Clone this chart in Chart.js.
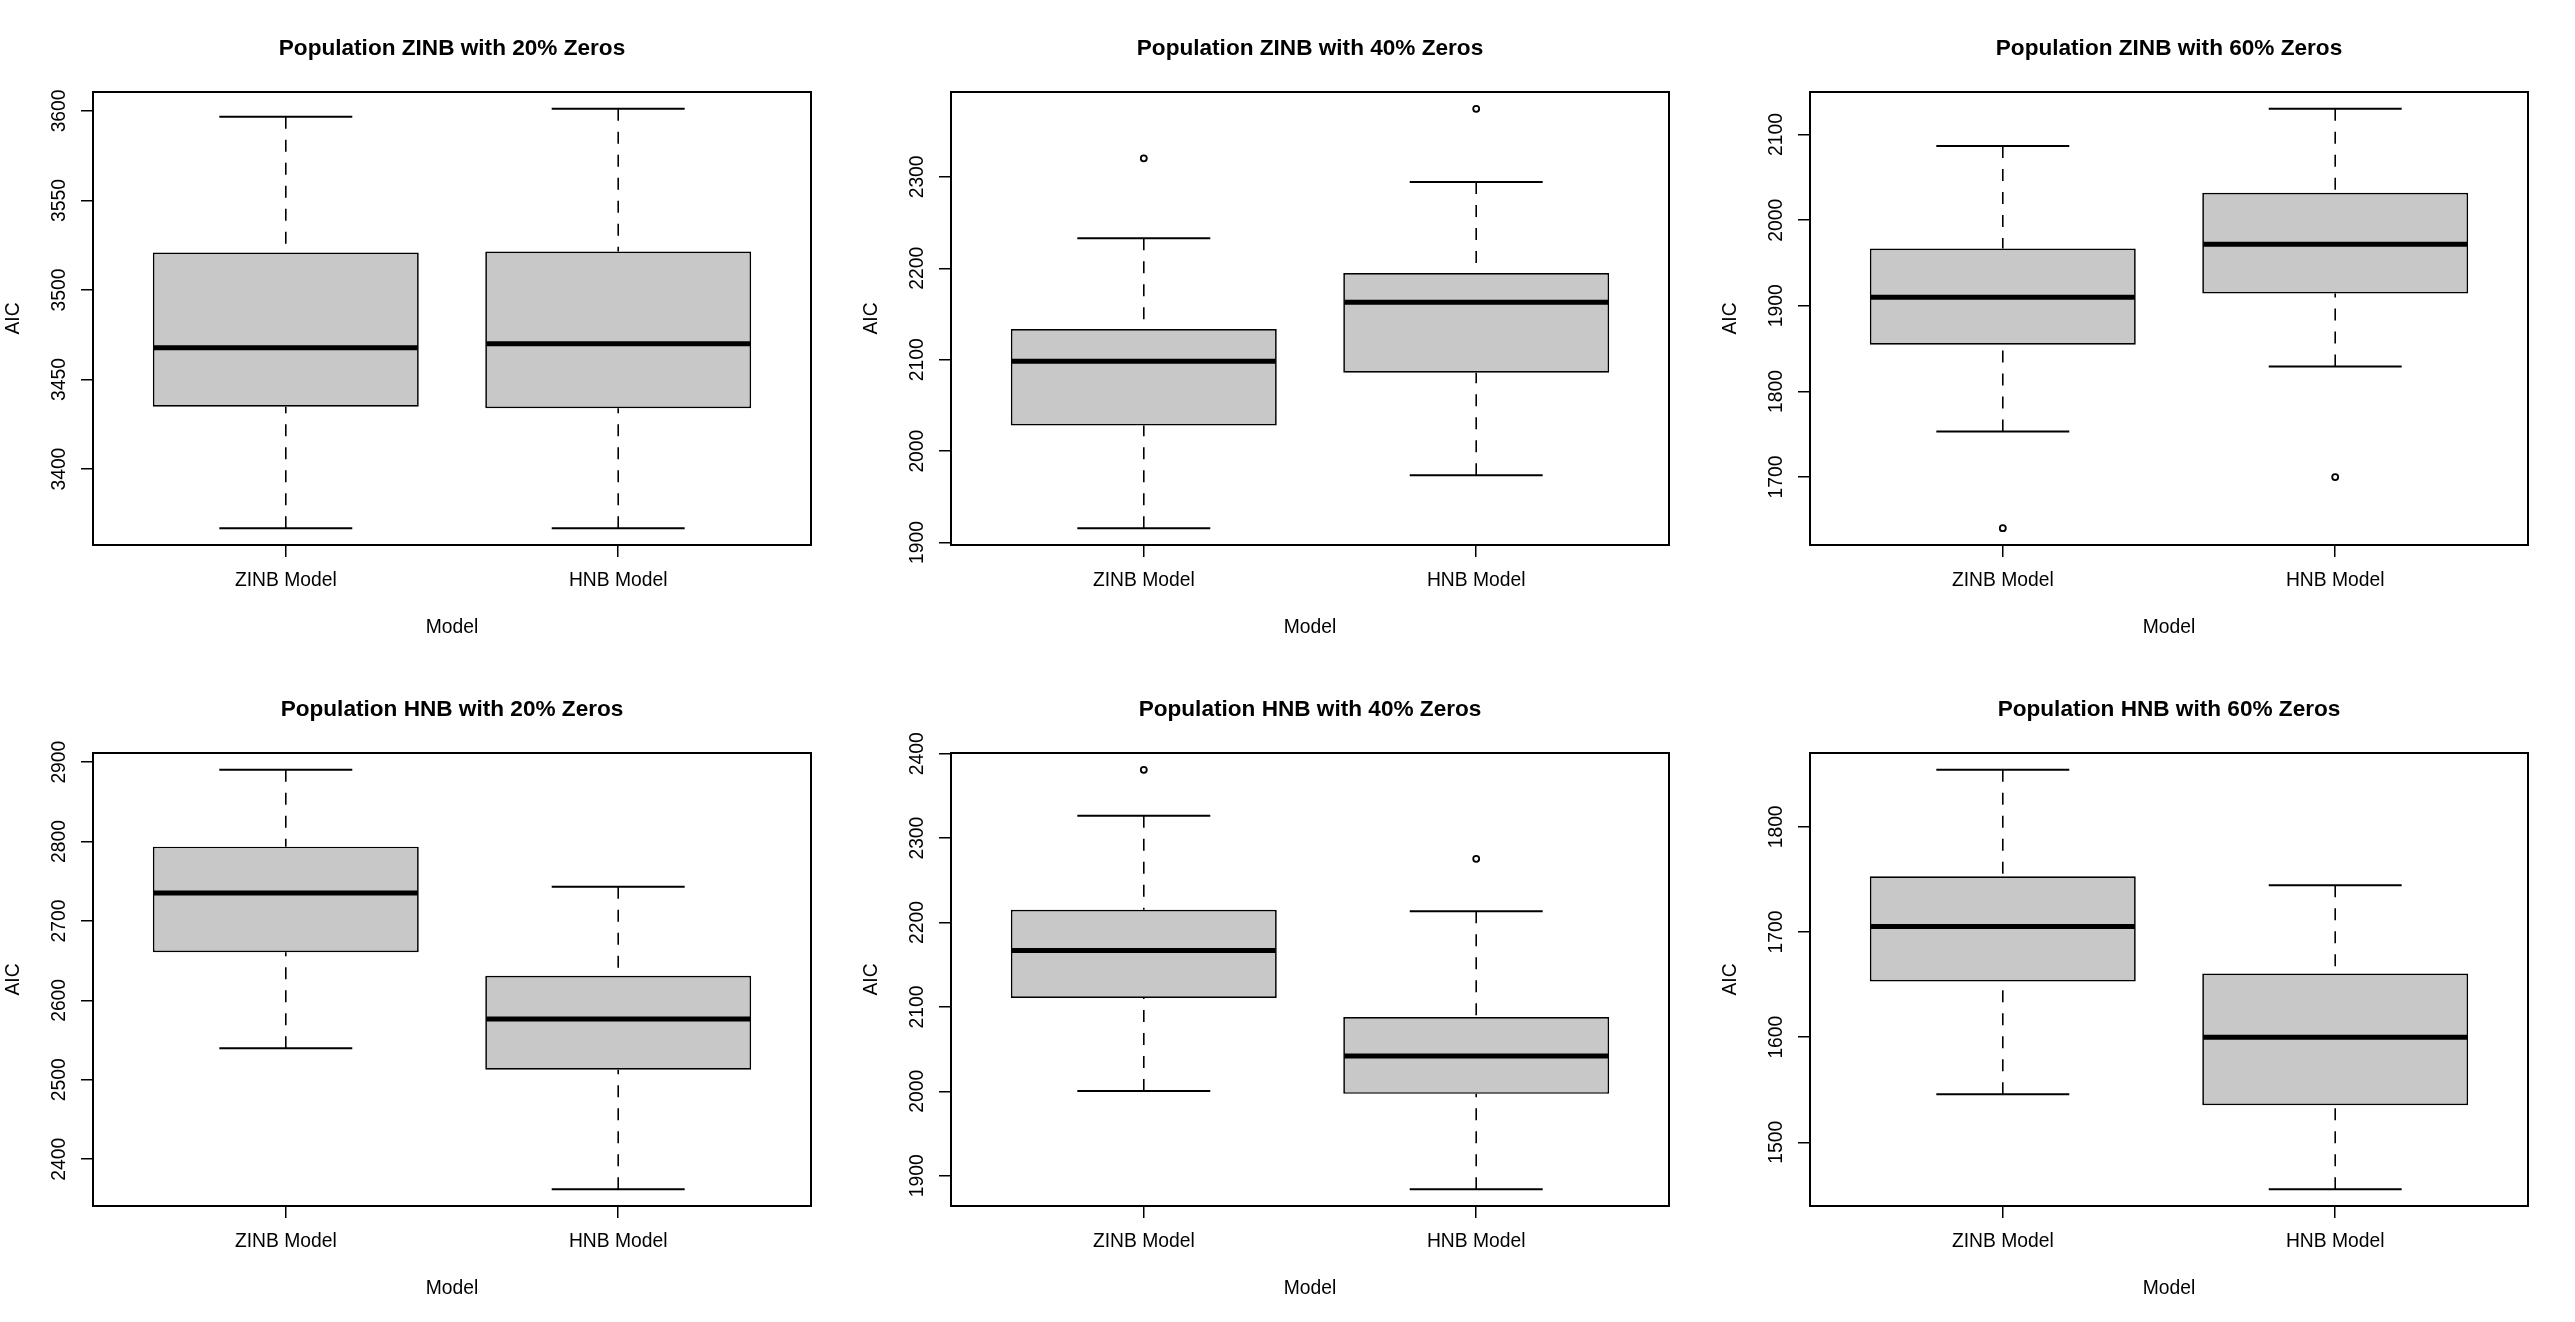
<!DOCTYPE html>
<html>
<head>
<meta charset="utf-8">
<script src="https://cdn.jsdelivr.net/npm/chart.js@4.4.1/dist/chart.umd.min.js"></script>
<style>
  html, body { margin: 0; padding: 0; background: #fff; }
  #grid { position: relative; width: 2575px; height: 1322px; }
  .panel { position: absolute; }
</style>
</head>
<body>
<div id="grid"></div>
<script>
// one entry per panel, each pair is [ZINB Model, HNB Model]
const panelTitles = [
  'Population ZINB with 20% Zeros', 'Population ZINB with 40% Zeros', 'Population ZINB with 60% Zeros',
  'Population HNB with 20% Zeros', 'Population HNB with 40% Zeros', 'Population HNB with 60% Zeros'
];
const models = ['ZINB Model', 'HNB Model'];

const lowerWhisker = [[3367, 3367], [1915.7, 1973.6], [1753.1, 1829.1], [2539.8, 2362.2], [2000.5, 1884], [1545.7, 1455.4]];
const q1Values     = [[3434.8, 3434], [2028, 2085.7], [1854.6, 1914.3], [2660.6, 2512.8], [2110.5, 1997], [1653, 1535.3]];
const medians      = [[3467.8, 3470], [2098.4, 2163], [1909.9, 1971.9], [2735.1, 2576.6], [2166.9, 2041.9], [1705.2, 1600]];
const q3Values     = [[3521, 3521.5], [2133.5, 2194.9], [1967, 2032.1], [2793.6, 2630.9], [2215, 2088], [1753, 1660.6]];
const upperWhisker = [[3596.7, 3601.2], [2233, 2294.5], [2086.7, 2130.1], [2890.4, 2743.1], [2326.6, 2213.5], [1854.3, 1744.5]];
const outliers     = [[[], []], [[2320.3], [2374.5]], [[1640.3], [1700]], [[], []], [[2381], [2275.5]], [[], []]];

const yTicks = [
  [3400, 3450, 3500, 3550, 3600],
  [1900, 2000, 2100, 2200, 2300],
  [1700, 1800, 1900, 2000, 2100],
  [2400, 2500, 2600, 2700, 2800, 2900],
  [1900, 2000, 2100, 2200, 2300, 2400],
  [1500, 1600, 1700, 1800]
];

const FONT = '"Liberation Sans", Arial, Helvetica, sans-serif';
const TEXT_SIZE = 19.3;

// R style extra marks: whiskers, staples, medians, frame, rotated y labels, title
const boxExtras = {
  id: 'boxExtras',
  afterDatasetsDraw(chart) {
    const o = chart.options.plugins.boxExtras;
    const y = chart.scales.y;
    const ctx = chart.ctx;
    const bars = chart.getDatasetMeta(0).data;
    ctx.save();
    ctx.strokeStyle = '#000';
    bars.forEach((bar, i) => {
      const cx = bar.x;
      const half = bar.width / 2;
      const yHi = y.getPixelForValue(o.hi[i]), yQ3 = y.getPixelForValue(o.q3[i]);
      const yLo = y.getPixelForValue(o.lo[i]), yQ1 = y.getPixelForValue(o.q1[i]);
      ctx.lineWidth = 1.6;
      ctx.setLineDash([12, 11]);
      ctx.beginPath();
      ctx.moveTo(cx, yHi); ctx.lineTo(cx, yQ3);
      ctx.moveTo(cx, yLo); ctx.lineTo(cx, yQ1);
      ctx.stroke();
      ctx.setLineDash([]);
      ctx.lineWidth = 2;
      ctx.beginPath();
      ctx.moveTo(cx - half / 2, yHi); ctx.lineTo(cx + half / 2, yHi);
      ctx.moveTo(cx - half / 2, yLo); ctx.lineTo(cx + half / 2, yLo);
      ctx.stroke();
      const yMed = y.getPixelForValue(o.med[i]);
      ctx.lineWidth = 5;
      ctx.beginPath();
      ctx.moveTo(cx - half + 1, yMed); ctx.lineTo(cx + half - 1, yMed);
      ctx.stroke();
    });
    ctx.restore();
  },
  afterDraw(chart) {
    const o = chart.options.plugins.boxExtras;
    const a = chart.chartArea;
    const y = chart.scales.y;
    const ctx = chart.ctx;
    ctx.save();
    ctx.strokeStyle = '#000';
    ctx.lineWidth = 2;
    ctx.strokeRect(a.left, a.top, a.right - a.left, a.bottom - a.top);

    ctx.fillStyle = '#000';
    ctx.font = TEXT_SIZE + 'px ' + FONT;
    ctx.textAlign = 'center';
    ctx.textBaseline = 'alphabetic';
    y.ticks.forEach(t => {
      ctx.save();
      ctx.translate(a.left - 28, y.getPixelForValue(t.value));
      ctx.rotate(-Math.PI / 2);
      ctx.fillText(String(t.value), 0, 0);
      ctx.restore();
    });

    ctx.font = 'bold 22.6px ' + FONT;
    ctx.fillText(o.title, (a.left + a.right) / 2, 55);
    ctx.restore();
  }
};

function yRange(k) {
  const vals = lowerWhisker[k].concat(upperWhisker[k], outliers[k][0], outliers[k][1]);
  const lo = Math.min(...vals), hi = Math.max(...vals);
  const pad = (hi - lo) * 0.04;
  return [lo - pad, hi + pad];
}

const grid = document.getElementById('grid');
const PW = 858, PH = 661;

panelTitles.forEach((title, k) => {
  const col = k % 3, row = Math.floor(k / 3);
  const canvas = document.createElement('canvas');
  canvas.className = 'panel';
  canvas.width = PW; canvas.height = PH;
  canvas.style.width = PW + 'px'; canvas.style.height = PH + 'px';
  canvas.style.left = Math.round(col * 2575 / 3) + 'px';
  canvas.style.top = (row * PH) + 'px';
  grid.appendChild(canvas);

  const [yMin, yMax] = yRange(k);
  const outlierPoints = [];
  models.forEach((m, i) => outliers[k][i].forEach(v => outlierPoints.push({ x: i + 1, y: v })));

  new Chart(canvas, {
    type: 'bar',
    data: {
      datasets: [
        {
          type: 'bar',
          data: models.map((m, i) => ({ x: i + 1, y: [q1Values[k][i], q3Values[k][i]] })),
          backgroundColor: '#C8C8C8',
          borderColor: '#000',
          borderWidth: 1.7,
          borderSkipped: false,
          barPercentage: 0.8,
          categoryPercentage: 1
        },
        {
          type: 'scatter',
          data: outlierPoints,
          pointRadius: 3,
          pointBorderWidth: 1.8,
          pointBackgroundColor: 'rgba(0,0,0,0)',
          pointBorderColor: '#000'
        }
      ]
    },
    options: {
      responsive: false,
      animation: false,
      devicePixelRatio: 1,
      events: [],
      layout: { padding: { top: 92, right: 47, bottom: 0, left: 0 } },
      plugins: {
        legend: { display: false },
        tooltip: { enabled: false },
        boxExtras: {
          title: title,
          lo: lowerWhisker[k], q1: q1Values[k], med: medians[k], q3: q3Values[k], hi: upperWhisker[k]
        }
      },
      scales: {
        x: {
          type: 'linear',
          min: 0.42, max: 2.58,
          offset: false,
          afterBuildTicks: s => { s.ticks = [{ value: 1 }, { value: 2 }]; },
          ticks: {
            callback: v => models[v - 1],
            font: { family: FONT, size: TEXT_SIZE },
            color: '#000',
            padding: 12,
            maxRotation: 0,
            autoSkip: false
          },
          grid: { drawOnChartArea: false, drawTicks: true, tickLength: 12, color: '#000', lineWidth: 1.5, offset: false },
          border: { display: false },
          title: { display: true, text: 'Model', color: '#000', font: { family: FONT, size: TEXT_SIZE }, padding: { top: 0, bottom: 22 } },
          afterFit: s => { s.height = 116; }
        },
        y: {
          type: 'linear',
          min: yMin, max: yMax,
          bounds: 'data',
          afterBuildTicks: s => { s.ticks = yTicks[k].map(v => ({ value: v })); },
          ticks: { display: false },
          grid: { drawOnChartArea: false, drawTicks: true, tickLength: 12, color: '#000', lineWidth: 1.5 },
          border: { display: false },
          title: { display: true, text: 'AIC', color: '#000', font: { family: FONT, size: TEXT_SIZE }, padding: { top: 2, bottom: 0 } },
          afterFit: s => { s.width = 93; }
        }
      }
    },
    plugins: [boxExtras]
  });
});
</script>
</body>
</html>
